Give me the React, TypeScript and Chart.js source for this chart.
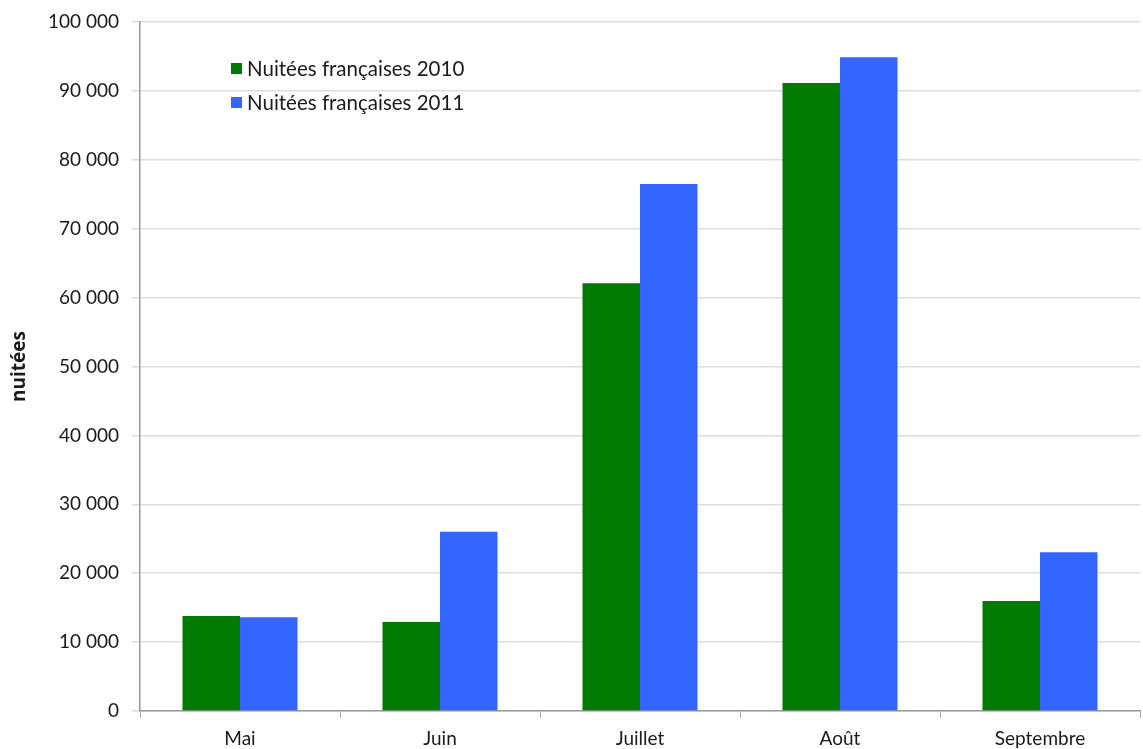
import React, { useEffect, useRef } from "react";
import { Chart, registerables } from "chart.js";

Chart.register(...registerables);

const categories = ["Mai", "Juin", "Juillet", "Août", "Septembre"];
const series2010 = [13800, 12900, 62100, 91150, 15950];
const series2011 = [13600, 26000, 76500, 94900, 23050];
const seriesLabels = ["Nuitées françaises 2010", "Nuitées françaises 2011"];
const seriesColors = ["#027a02", "#3366ff"];

const FONT = "Lato, 'Open Sans', sans-serif";

const insideLegend = {
  id: "insideLegend",
  afterDraw(chart: any) {
    const ctx = chart.ctx;
    ctx.save();
    ctx.font = `20.5px ${FONT}`;
    ctx.textBaseline = "middle";
    const x = 231;
    const ys = [68, 102];
    chart.data.datasets.forEach((ds: any, i: number) => {
      ctx.fillStyle = ds.backgroundColor;
      ctx.fillRect(x, ys[i] - 5, 11, 11);
      ctx.fillStyle = "#1a1a1a";
      ctx.fillText(ds.label, x + 16, ys[i] + 1);
    });
    ctx.restore();
  },
};

export default function App() {
  const ref = useRef<HTMLCanvasElement>(null);
  useEffect(() => {
    document.body.style.margin = "0";
    const chart = new Chart(ref.current!, {
      type: "bar",
      data: {
        labels: categories,
        datasets: [
          { label: seriesLabels[0], data: series2010, backgroundColor: seriesColors[0] },
          { label: seriesLabels[1], data: series2011, backgroundColor: seriesColors[1] },
        ],
      },
      options: {
        responsive: false,
        animation: false,
        layout: { padding: { top: 22, right: 3, left: 0, bottom: 0 } },
        datasets: { bar: { categoryPercentage: 0.575, barPercentage: 1 } },
        plugins: { legend: { display: false }, tooltip: { enabled: false } },
        scales: {
          x: {
            grid: { drawOnChartArea: false, drawTicks: true, tickLength: 7, color: "#aaaaaa", offset: true },
            border: { color: "#999999", width: 1.5 },
            ticks: { color: "#1a1a1a", font: { family: FONT, size: 19 }, padding: 9 },
            afterFit(scale: any) { scale.height = 38; },
          },
          y: {
            min: 0,
            max: 100000,
            grid: { color: "#dddddd", tickLength: 8, lineWidth: 1.5 },
            border: { color: "#999999", width: 1.5 },
            ticks: {
              stepSize: 10000,
              color: "#1a1a1a",
              font: { family: FONT, size: 19 },
              padding: 13,
              callback: (v: any) => String(v).replace(/\B(?=(\d{3})+(?!\d))/g, " "),
            },
            title: {
              display: true,
              text: "nuitées",
              color: "#1a1a1a",
              font: { family: "'Open Sans', sans-serif", size: 19, weight: "bold" },
              padding: { top: 8, bottom: 0 },
            },
            afterFit(scale: any) {
              scale.width = 140;
              scale.paddingTop = 0;
              scale.paddingBottom = 0;
            },
          },
        },
      },
      plugins: [insideLegend],
    });
    return () => chart.destroy();
  }, []);
  return (
    <div style={{ width: 1143, height: 749, background: "#fff" }}>
      <canvas ref={ref} width={1143} height={749} />
    </div>
  );
}
